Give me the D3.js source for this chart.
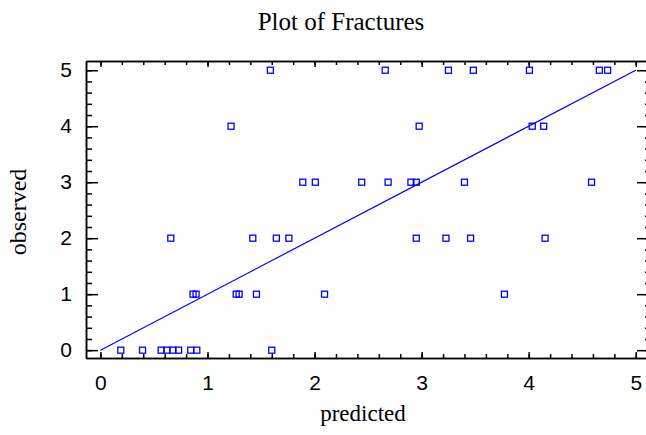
<!DOCTYPE html>
<html>
<head>
<meta charset="utf-8">
<script src="https://cdn.jsdelivr.net/npm/d3@7"></script>
<style>
  body { margin: 0; background: #fff; }
  .tick text { font-family: "Liberation Sans", Arial, sans-serif; font-size: 21px; fill: #000; }
  .lbl { font-family: "Liberation Serif", "Times New Roman", serif; fill: #000; }
</style>
</head>
<body>
<div id="chart"></div>
<script>
// predicted / observed pairs
var predicted = [0.19, 0.393, 0.567, 0.62, 0.677, 0.73, 0.843, 0.9, 1.6,
  0.865, 0.893, 1.268, 1.295, 1.457, 2.093, 3.773,
  0.657, 1.423, 1.643, 1.76, 2.95, 3.227, 3.457, 4.153,
  1.89, 2.007, 2.44, 2.687, 2.9, 2.95, 3.4, 4.587,
  1.22, 2.977, 4.033, 4.14,
  1.587, 2.66, 3.25, 3.483, 4.007, 4.66, 4.737];
var observed = [0, 0, 0, 0, 0, 0, 0, 0, 0,
  1, 1, 1, 1, 1, 1, 1,
  2, 2, 2, 2, 2, 2, 2, 2,
  3, 3, 3, 3, 3, 3, 3, 3,
  4, 4, 4, 4,
  5, 5, 5, 5, 5, 5, 5];
var fitLine = [[0, 0], [5, 5]];
var majorTicks = [0, 1, 2, 3, 4, 5];
var minorTicks = d3.range(0, 26).map(function(i) { return i / 5; });

var svgWidth = 646;
var svgHeight = 435;
var margin = { top: 61, right: -1, bottom: 77, left: 86 };
var width = svgWidth - margin.left - margin.right;
var height = svgHeight - margin.top - margin.bottom;

var svg = d3.select("#chart")
  .append("svg")
  .attr("width", svgWidth)
  .attr("height", svgHeight);

var chart = svg.append("g")
  .attr("transform", `translate(${margin.left}, ${margin.top})`);

var x = d3.scaleLinear().domain([-0.135, 5.105]).range([0, width]);
var y = d3.scaleLinear().domain([-0.14, 5.165]).range([height, 0]);

function styleAxis(g) {
  g.selectAll("path.domain").attr("stroke", "#000").attr("stroke-width", 1.5);
  g.selectAll(".tick line").attr("stroke", "#000").attr("stroke-width", 1.5);
}

// minor ticks
chart.append("g").attr("transform", `translate(0, ${height})`)
  .call(d3.axisBottom(x).tickValues(minorTicks).tickSize(-4).tickSizeOuter(0).tickFormat(""))
  .call(styleAxis);
chart.append("g")
  .call(d3.axisTop(x).tickValues(minorTicks).tickSize(-4).tickSizeOuter(0).tickFormat(""))
  .call(styleAxis);
chart.append("g")
  .call(d3.axisLeft(y).tickValues(minorTicks).tickSize(-6).tickSizeOuter(0).tickFormat(""))
  .call(styleAxis);
chart.append("g").attr("transform", `translate(${width}, 0)`)
  .call(d3.axisRight(y).tickValues(minorTicks).tickSize(-2).tickSizeOuter(0).tickFormat(""))
  .call(styleAxis);

// major ticks
chart.append("g").attr("transform", `translate(0, ${height})`)
  .call(d3.axisBottom(x).tickValues(majorTicks).tickSize(-6).tickSizeOuter(0).tickPadding(17).tickFormat(d3.format("d")))
  .call(styleAxis);
chart.append("g")
  .call(d3.axisTop(x).tickValues(majorTicks).tickSize(-6).tickSizeOuter(0).tickFormat(""))
  .call(styleAxis);
chart.append("g")
  .call(d3.axisLeft(y).tickValues(majorTicks).tickSize(-12).tickSizeOuter(0).tickPadding(14).tickFormat(d3.format("d")))
  .call(styleAxis);
chart.append("g").attr("transform", `translate(${width}, 0)`)
  .call(d3.axisRight(y).tickValues(majorTicks).tickSize(-10).tickSizeOuter(0).tickFormat(""))
  .call(styleAxis);

chart.selectAll(".domain").attr("fill", "none");

// y = x line
chart.append("path")
  .datum(fitLine)
  .attr("fill", "none")
  .attr("stroke", "#0000ff")
  .attr("stroke-width", 1.2)
  .attr("d", d3.line().x(d => x(d[0])).y(d => y(d[1])));

// points
chart.selectAll("rect.pt")
  .data(predicted)
  .enter()
  .append("rect")
  .attr("class", "pt")
  .attr("x", (d) => x(d) - 3)
  .attr("y", (d, i) => y(observed[i]) - 3)
  .attr("width", 6)
  .attr("height", 6)
  .attr("fill", "none")
  .attr("stroke", "#0000ff")
  .attr("stroke-width", 1.3);

// labels
svg.append("text")
  .attr("class", "lbl")
  .attr("x", 341)
  .attr("y", 30)
  .attr("text-anchor", "middle")
  .attr("font-size", "25px")
  .text("Plot of Fractures");

svg.append("text")
  .attr("class", "lbl")
  .attr("x", 363)
  .attr("y", 421)
  .attr("text-anchor", "middle")
  .attr("font-size", "23px")
  .text("predicted");

svg.append("text")
  .attr("class", "lbl")
  .attr("transform", "translate(26, 212) rotate(-90)")
  .attr("text-anchor", "middle")
  .attr("font-size", "24px")
  .text("observed");
</script>
</body>
</html>
